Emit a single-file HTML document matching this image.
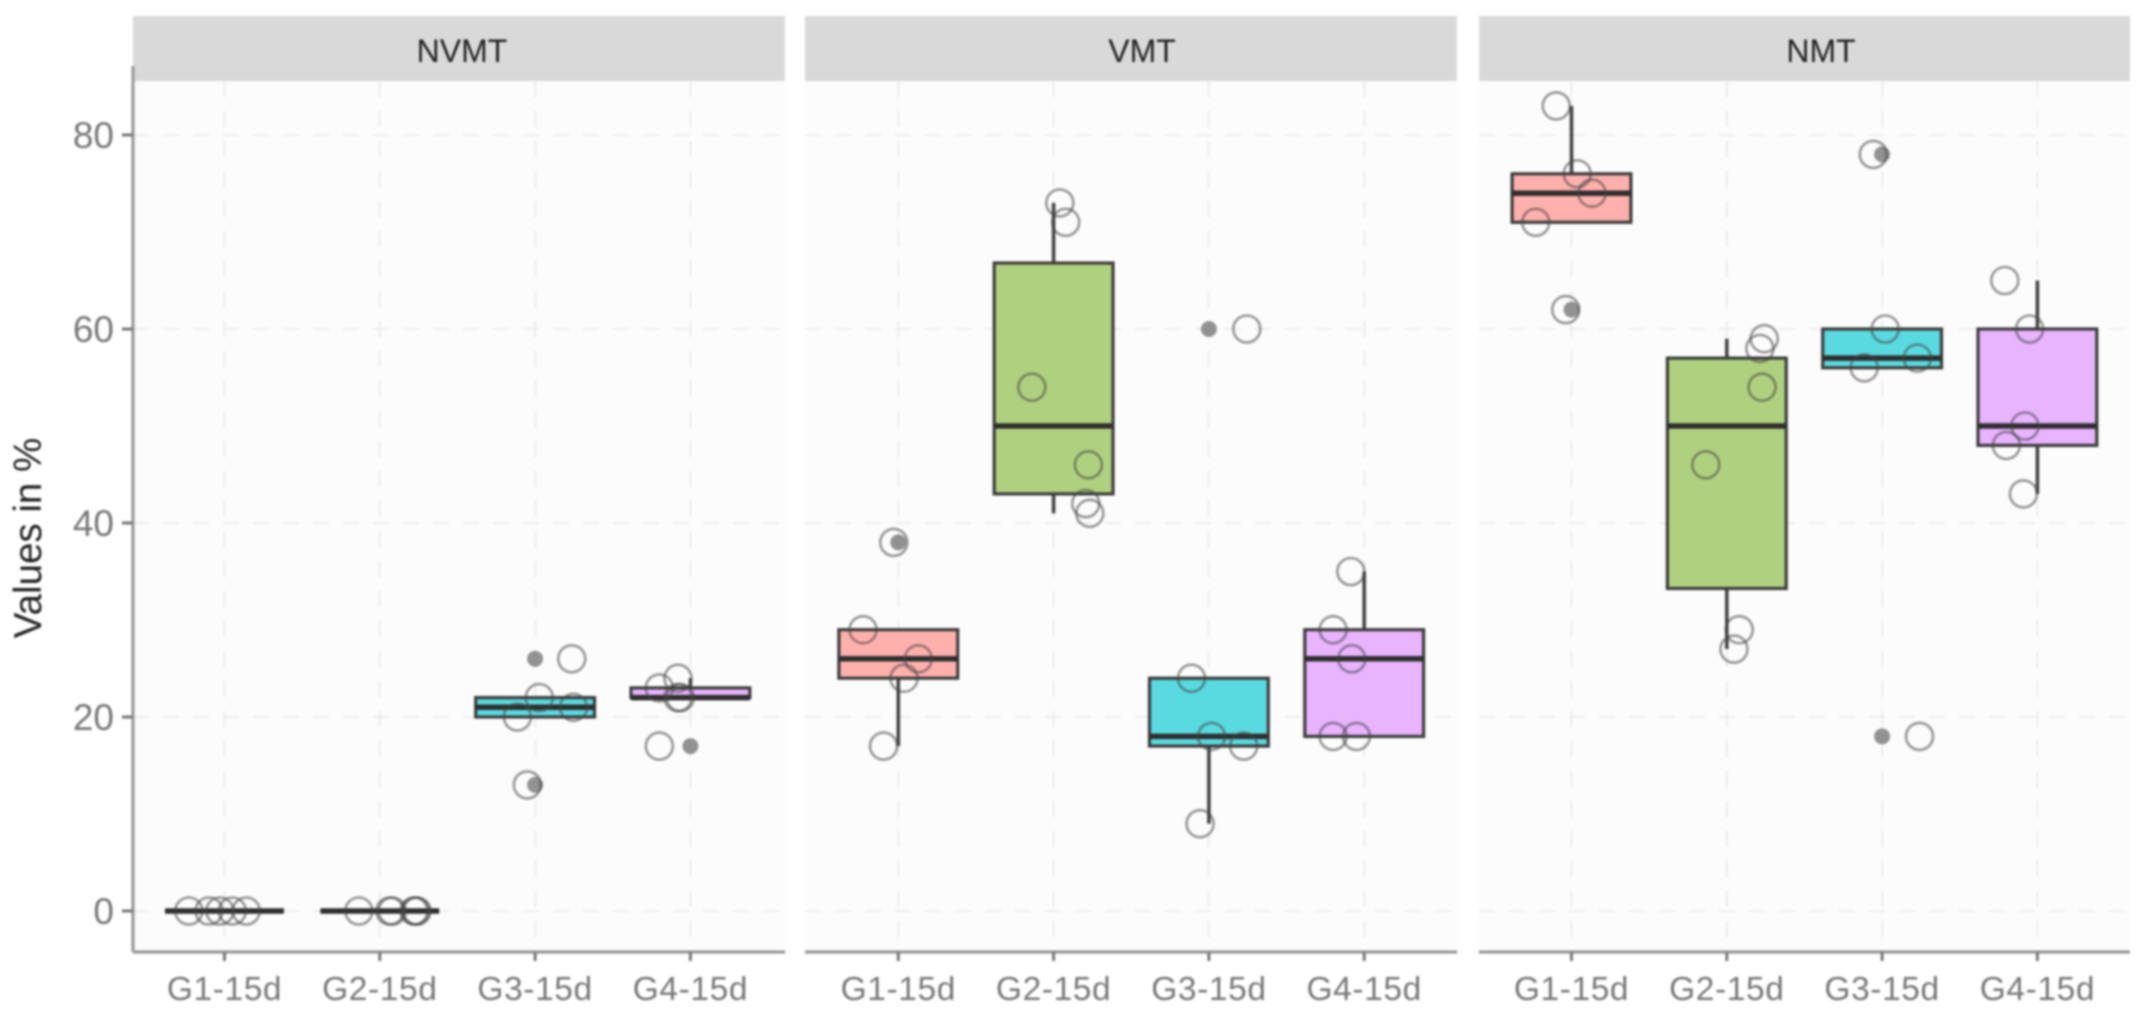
<!DOCTYPE html>
<html lang="en">
<head>
<meta charset="utf-8">
<title>Values in % by group and facet</title>
<style>
html,body{margin:0;padding:0;background:#fff;width:2155px;height:1022px;overflow:hidden}
svg{display:block;filter:blur(1px);font-family:"Liberation Sans",sans-serif}
</style>
</head>
<body>
<svg id="chart" xmlns="http://www.w3.org/2000/svg" width="2155" height="1022" viewBox="0 0 2155 1022"></svg>
<script>
const facets = ['NVMT', 'VMT', 'NMT'];
const categories = ['G1-15d', 'G2-15d', 'G3-15d', 'G4-15d'];
const yTicks = [0, 20, 40, 60, 80];

const nvmtLow = [0, 0, 20, 22];
const nvmtQ1 = [0, 0, 20, 22];
const nvmtMedian = [0, 0, 21, 22];
const nvmtQ3 = [0, 0, 22, 23];
const nvmtHigh = [0, 0, 22, 24];
const nvmtOutliers = [[], [], [26, 13], [17]];
const nvmtPoints = [[0, 0, 0, 0, 0], [0, 0, 0, 0, 0, 0], [26, 22, 21, 20, 13], [24, 23, 22, 22, 17]];
const nvmtJitter = [[-0.23, -0.1, -0.03, 0.05, 0.14], [-0.135, 0.065, 0.08, 0.23, 0.24, 0.22], [0.236, 0.027, 0.247, -0.114, -0.05], [-0.08, -0.2, -0.065, -0.08, -0.2]];

const vmtLow = [17, 41, 9, 18];
const vmtQ1 = [24, 43, 17, 18];
const vmtMedian = [26, 50, 18, 26];
const vmtQ3 = [29, 66.8, 24, 29];
const vmtHigh = [29, 73, 24, 35];
const vmtOutliers = [[38], [], [60], []];
const vmtPoints = [[38, 29, 26, 24, 17], [73, 71, 54, 46, 42, 41], [60, 24, 18, 17, 9], [35, 29, 26, 18, 18]];
const vmtJitter = [[-0.029, -0.227, 0.129, 0.037, -0.095], [0.04, 0.078, -0.14, 0.224, 0.207, 0.233], [0.244, -0.112, 0.017, 0.224, -0.057], [-0.086, -0.2, -0.08, -0.2, -0.05]];

const nmtLow = [71, 27, 56, 43];
const nmtQ1 = [71, 33.25, 56, 48];
const nmtMedian = [74, 50, 57, 50];
const nmtQ3 = [76, 57, 60, 60];
const nmtHigh = [83, 59, 60, 65];
const nmtOutliers = [[62], [], [78, 18], []];
const nmtPoints = [[83, 76, 74, 71, 62], [59, 58, 54, 46, 29, 27], [78, 60, 57, 56, 18], [65, 60, 50, 48, 43]];
const nmtJitter = [[-0.098, 0.037, 0.132, -0.23, -0.037], [0.241, 0.213, 0.227, -0.135, 0.08, 0.046], [-0.057, 0.02, 0.227, -0.115, 0.241], [-0.21, -0.05, -0.08, -0.2, -0.09]];

const facetData = [
  { low: nvmtLow, q1: nvmtQ1, median: nvmtMedian, q3: nvmtQ3, high: nvmtHigh, outliers: nvmtOutliers, points: nvmtPoints, jitter: nvmtJitter },
  { low: vmtLow, q1: vmtQ1, median: vmtMedian, q3: vmtQ3, high: vmtHigh, outliers: vmtOutliers, points: vmtPoints, jitter: vmtJitter },
  { low: nmtLow, q1: nmtQ1, median: nmtMedian, q3: nmtQ3, high: nmtHigh, outliers: nmtOutliers, points: nmtPoints, jitter: nmtJitter }
];

const boxColors = ['#FFB0AC', '#AFD17F', '#59DAE0', '#E8B3FF'];
const panelFrames = [
  { left: 133, right: 785, firstTick: 224.5, labelX: 462 },
  { left: 805, right: 1457, firstTick: 898.3, labelX: 1142 },
  { left: 1479, right: 2130, firstTick: 1571.5, labelX: 1821 }
];
const tickStep = 155.3;
const boxWidth = 0.765;
const stripTop = 16, stripBottom = 81, panelBottom = 952, axisTop = 66;

function yScale(v) { return 911 - v * 9.7; }
function xScale(panel, pos) { return panelFrames[panel].firstTick + pos * tickStep; }

const svg = document.getElementById('chart');
function add(tag, attrs, parent, text) {
  const el = document.createElementNS('http://www.w3.org/2000/svg', tag);
  for (const k in attrs) el.setAttribute(k, attrs[k]);
  if (text !== undefined) el.textContent = text;
  (parent || svg).appendChild(el);
  return el;
}
function named(el, name) {
  
  
  return el;
}

facets.forEach(function (facet, p) {
  const f = panelFrames[p];
  const d = facetData[p];
  const key = facet.toLowerCase();
  const g = named(add('g', {}), 'panel-' + key);

  named(add('rect', { x: f.left, y: stripBottom, width: f.right - f.left, height: panelBottom - stripBottom, fill: '#FCFCFC' }, g), 'panel-background-' + key);

  yTicks.forEach(function (t) {
    named(add('line', { x1: f.left, x2: f.right, y1: yScale(t), y2: yScale(t), stroke: '#EBEBEB', 'stroke-width': 1.8, 'stroke-dasharray': '16 14' }, g), 'grid-line-y-' + t);
  });
  categories.forEach(function (c, i) {
    named(add('line', { x1: xScale(p, i), x2: xScale(p, i), y1: stripBottom, y2: panelBottom, stroke: '#EBEBEB', 'stroke-width': 1.8, 'stroke-dasharray': '16 14' }, g), 'grid-line-x-' + c);
  });

  named(add('rect', { x: f.left, y: stripTop, width: f.right - f.left, height: stripBottom - stripTop, fill: '#D9D9D9' }, g), 'strip-' + key);
  named(add('text', { x: f.labelX, y: 62, 'text-anchor': 'middle', 'font-size': 32, fill: '#222' }, g, facet), 'strip-label-' + key);

  categories.forEach(function (c, i) {
    const cx = xScale(p, i);
    const half = boxWidth * tickStep / 2;
    const box = named(add('g', {}, g), 'boxplot-' + key + '-' + c);
    named(add('line', { x1: cx, x2: cx, y1: yScale(d.q3[i]), y2: yScale(d.high[i]), stroke: '#444', 'stroke-width': 3.6 }, box), 'upper-whisker');
    named(add('line', { x1: cx, x2: cx, y1: yScale(d.q1[i]), y2: yScale(d.low[i]), stroke: '#444', 'stroke-width': 3.6 }, box), 'lower-whisker');
    named(add('rect', { x: cx - half, y: yScale(d.q3[i]), width: half * 2, height: yScale(d.q1[i]) - yScale(d.q3[i]), fill: boxColors[i], stroke: '#3c3c3c', 'stroke-width': 3.2 }, box), 'box-body');
    named(add('line', { x1: cx - half, x2: cx + half, y1: yScale(d.median[i]), y2: yScale(d.median[i]), stroke: '#2e2e2e', 'stroke-width': 5.5 }, box), 'median-line');
    d.outliers[i].forEach(function (v) {
      named(add('circle', { cx: cx, cy: yScale(v), r: 8, fill: '#777', 'fill-opacity': 0.8 }, box), 'outlier');
    });
    d.points[i].forEach(function (v, j) {
      named(add('circle', { cx: xScale(p, i + d.jitter[i][j]), cy: yScale(v), r: 13.5, fill: 'none', stroke: '#444', 'stroke-opacity': 0.55, 'stroke-width': 2.6 }, box), 'jitter-point');
    });
  });

  named(add('line', { x1: f.left, x2: f.right, y1: panelBottom, y2: panelBottom, stroke: '#999', 'stroke-width': 3.2 }, g), 'x-axis-line-' + key);
  categories.forEach(function (c, i) {
    named(add('line', { x1: xScale(p, i), x2: xScale(p, i), y1: panelBottom, y2: panelBottom + 9, stroke: '#777', 'stroke-width': 3 }, g), 'x-tick-' + c);
    named(add('text', { x: xScale(p, i), y: 1000, 'text-anchor': 'middle', 'font-size': 33.5, 'letter-spacing': 0.6, fill: '#777' }, g, c), 'x-tick-label-' + c);
  });
});

const yAxis = named(add('g', {}), 'y-axis');
named(add('line', { x1: 133, x2: 133, y1: axisTop, y2: panelBottom, stroke: '#999', 'stroke-width': 3.2 }, yAxis), 'y-axis-line');
yTicks.forEach(function (t) {
  named(add('line', { x1: 122, x2: 133, y1: yScale(t), y2: yScale(t), stroke: '#777', 'stroke-width': 3 }, yAxis), 'y-tick-' + t);
  named(add('text', { x: 114, y: yScale(t) + 13, 'text-anchor': 'end', 'font-size': 37, fill: '#777' }, yAxis, t), 'y-tick-label-' + t);
});
named(add('text', { transform: 'translate(41 538) rotate(-90)', 'text-anchor': 'middle', 'font-size': 38.5, fill: '#222' }, yAxis, 'Values in %'), 'y-axis-title');
</script>
</body>
</html>
